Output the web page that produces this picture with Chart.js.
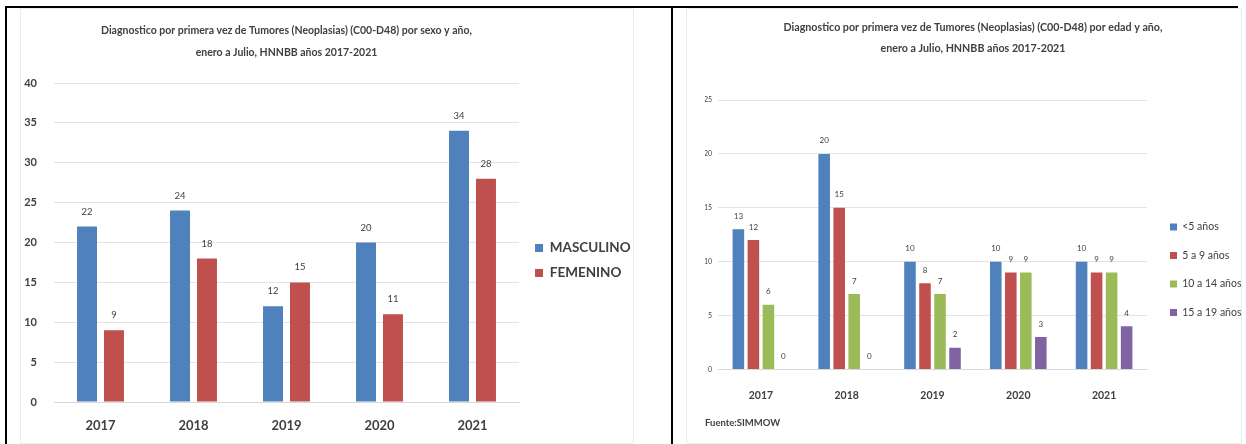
<!DOCTYPE html>
<html lang="es">
<head>
<meta charset="UTF-8">
<title>Diagnostico por primera vez de Tumores (Neoplasias)</title>
<script src="https://cdn.jsdelivr.net/npm/chart.js"></script>
<style>
  body { margin: 0; background: #fff; width: 1246px; height: 444px; position: relative; overflow: hidden; }
  .linea { position: absolute; background: #000; }
  .marco { position: absolute; border: 1px solid #ececec; background: #fff; box-sizing: border-box; }
  canvas { position: absolute; }
</style>
</head>
<body>
<div class="linea" style="left:5px; top:6px; width:1233px; height:2px"></div>
<div class="linea" style="left:5px; top:6px; width:2px; height:438px"></div>
<div class="linea" style="left:671px; top:6px; width:2px; height:438px"></div>
<div class="marco" style="left:20px; top:8px; width:614px; height:436px"></div>
<div class="marco" style="left:686px; top:8px; width:556px; height:436px"></div>
<canvas id="graficoSexo" width="613" height="435" style="left:20px; top:8px"></canvas>
<canvas id="graficoEdad" width="555" height="435" style="left:686px; top:8px"></canvas>

<script>
// datos
const anios = ['2017', '2018', '2019', '2020', '2021'];

const masculino = [22, 24, 12, 20, 34];
const femenino = [9, 18, 15, 11, 28];

const menos5 = [13, 20, 10, 10, 10];
const de5a9 = [12, 15, 8, 9, 9];
const de10a14 = [6, 7, 7, 9, 9];
const de15a19 = [0, 0, 2, 3, 4];

const tituloSexo = ['Diagnostico por primera vez de Tumores (Neoplasias) (C00-D48) por sexo y año,', 'enero a Julio, HNNBB años 2017-2021'];
const tituloEdad = ['Diagnostico por primera vez de Tumores (Neoplasias) (C00-D48) por edad y año,', 'enero a Julio, HNNBB años 2017-2021'];
const fuente = 'Fuente:SIMMOW';

const ejeSexo = { max: 40, paso: 5 };
const ejeEdad = { max: 25, paso: 5 };

const azul = '#4F81BD';
const rojo = '#C0504D';
const verde = '#9BBB59';
const morado = '#8064A2';
const texto = '#404040';

Chart.defaults.font.family = 'Lato, sans-serif';
Chart.defaults.color = texto;

// numeros encima de cada barra
const etiquetasValor = {
  id: 'etiquetasValor',
  afterDatasetsDraw(chart, args, opts) {
    const ctx = chart.ctx;
    ctx.save();
    ctx.font = opts.font;
    ctx.fillStyle = texto;
    ctx.textAlign = 'center';
    ctx.textBaseline = 'middle';
    chart.data.datasets.forEach((ds, i) => {
      chart.getDatasetMeta(i).data.forEach((barra, j) => {
        ctx.fillText(ds.data[j], barra.x, barra.y - opts.offset);
      });
    });
    ctx.restore();
  }
};

// corre la leyenda un poco (como en el excel)
const moverLeyenda = {
  id: 'moverLeyenda',
  afterLayout(chart, args, opts) {
    const l = chart.legend;
    l.left += opts.dx; l.right += opts.dx;
    l.top += opts.dy; l.bottom += opts.dy;
  }
};

// grafico 1: por sexo
new Chart(document.getElementById('graficoSexo'), {
  type: 'bar',
  data: {
    labels: anios,
    datasets: [
      { label: 'MASCULINO', data: masculino, backgroundColor: azul },
      { label: 'FEMENINO', data: femenino, backgroundColor: rojo }
    ]
  },
  options: {
    responsive: false,
    animation: false,
    categoryPercentage: 0.58,
    barPercentage: 0.74,
    scales: {
      x: {
        grid: { display: false, drawTicks: false },
        border: { color: '#d9d9d9' },
        ticks: { font: { size: 13, weight: 'bold' }, padding: 16 },
        afterFit(s) { s.height = 41; }
      },
      y: {
        min: 0,
        max: ejeSexo.max,
        ticks: { stepSize: ejeSexo.paso, font: { size: 11, weight: 'bold' }, padding: 17 },
        grid: { color: '#e3e3e3', drawTicks: false },
        border: { display: false },
        afterFit(s) { s.width = 34; }
      }
    },
    plugins: {
      title: {
        display: true,
        fullSize: false,
        text: tituloSexo,
        color: texto,
        font: { size: 10.5, weight: 'bold', lineHeight: 22 / 10.5 },
        padding: { top: 12, bottom: 19 }
      },
      legend: {
        position: 'right',
        maxWidth: 114,
        labels: { boxWidth: 8, boxHeight: 8, padding: 11.5, color: texto, font: { size: 13.5, weight: 'bold' } }
      },
      tooltip: { enabled: false },
      etiquetasValor: { font: '9.5px Lato', offset: 15 },
      moverLeyenda: { dx: 4.5, dy: 35 }
    }
  },
  plugins: [etiquetasValor, moverLeyenda]
});

// grafico 2: por edad
new Chart(document.getElementById('graficoEdad'), {
  type: 'bar',
  data: {
    labels: anios,
    datasets: [
      { label: '<5 años', data: menos5, backgroundColor: azul },
      { label: '5 a 9 años', data: de5a9, backgroundColor: rojo },
      { label: '10 a 14 años', data: de10a14, backgroundColor: verde },
      { label: '15 a 19 años', data: de15a19, backgroundColor: morado }
    ]
  },
  options: {
    responsive: false,
    animation: false,
    categoryPercentage: 0.70,
    barPercentage: 0.77,
    layout: { padding: { left: 19, bottom: 14.6 } },
    scales: {
      x: {
        grid: { display: false, drawTicks: false },
        border: { color: '#d9d9d9' },
        ticks: { font: { size: 10.5, weight: 'bold' }, padding: 20 },
        afterFit(s) { s.height = 47.6; }
      },
      y: {
        min: 0,
        max: ejeEdad.max,
        ticks: { stepSize: ejeEdad.paso, font: { size: 7 }, padding: 6 },
        grid: { color: '#e3e3e3', drawTicks: false },
        border: { display: false },
        afterFit(s) { s.width = 13; }
      }
    },
    plugins: {
      title: {
        display: true,
        text: tituloEdad,
        color: texto,
        font: { size: 10.7, weight: 'bold', lineHeight: 21 / 10.7 },
        padding: { top: 9.5, bottom: 40.5 }
      },
      subtitle: {
        display: true,
        position: 'bottom',
        align: 'start',
        text: fuente,
        color: texto,
        font: { size: 9.5, weight: 'bold' },
        padding: 0
      },
      legend: {
        position: 'right',
        maxWidth: 94,
        labels: { boxWidth: 7, boxHeight: 7, padding: 18, color: texto, font: { size: 10.5 } }
      },
      tooltip: { enabled: false },
      etiquetasValor: { font: '8px Lato', offset: 13 },
      moverLeyenda: { dx: 5, dy: 51.5 }
    }
  },
  plugins: [etiquetasValor, moverLeyenda]
});
</script>
</body>
</html>
